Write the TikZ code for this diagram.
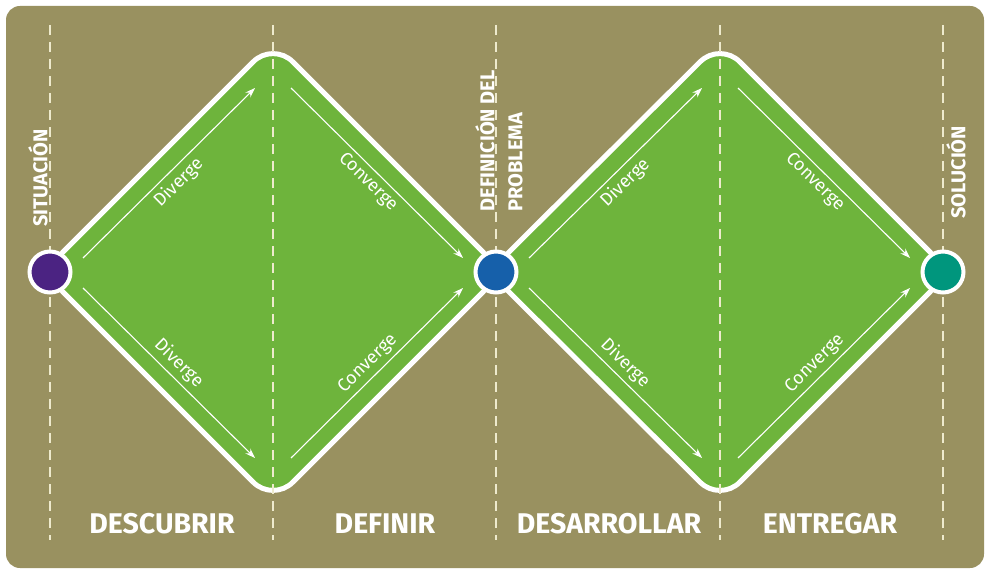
\documentclass[tikz,border=0pt]{standalone}
\usepackage{fontspec}
\setmainfont{Fira Sans}
\usetikzlibrary{arrows.meta}
\definecolor{olive}{RGB}{153,145,96}
\definecolor{leaf}{RGB}{110,180,60}
\definecolor{guidecream}{RGB}{238,234,205}
\definecolor{dotpurple}{RGB}{75,35,130}
\definecolor{dotblue}{RGB}{22,96,170}
\definecolor{dotteal}{RGB}{0,150,125}

\begin{document}
\begin{tikzpicture}[x=1pt,y=-1pt,
  phase/.style={fill=leaf, draw=white, line width=5pt, rounded corners=28pt},
  guide/.style={guidecream, line width=1.3pt, dash pattern=on 10pt off 7pt},
  flow/.style={white, line width=1.1pt, -{Stealth[length=10pt,width=7pt]}},
  flowlabel/.style={font=\fontsize{18}{18}\selectfont, text=white, sloped, midway},
  milestone/.style={circle, draw=white, line width=4pt, minimum size=41pt, inner sep=0pt},
  steplabel/.style={font=\bfseries\fontsize{20}{28}\selectfont, text=white, rotate=90, anchor=west, align=left},
  stagename/.style={font=\bfseries\fontsize{28.5}{28.5}\selectfont, text=white}]
  \useasboundingbox (0,0) rectangle (986,572);
  %% Background panel
  \fill[olive, rounded corners=14pt] (6,6) rectangle (984,568);
  %% The two diamonds
  \draw[phase] (43,272) -- (273,42) -- (503,272) -- (273,502) -- cycle;
  \draw[phase] (489,272) -- (720,42) -- (950,272) -- (720,502) -- cycle;
  %% Dashed guides
  \draw[guide] (50,25) -- (50,540);
  \draw[guide] (273,25) -- (273,540);
  \draw[guide] (496,25) -- (496,540);
  \draw[guide] (720,25) -- (720,540);
  \draw[guide] (943,25) -- (943,540);
  %% Milestones
  \node[milestone, fill=dotpurple] (situacion) at (50,272) {};
  \node[milestone, fill=dotblue] (problema) at (496,272) {};
  \node[milestone, fill=dotteal] (solucion) at (943,272) {};
  %% First diamond: diverge, then converge
  \draw[flow] (83,258) -- (255,88) node[flowlabel, below=1pt] {Diverge};
  \draw[flow] (83,288) -- (255,458) node[flowlabel, above=1pt] {Diverge};
  \draw[flow] (291,88) -- (463,258) node[flowlabel, below=1pt] {Converge};
  \draw[flow] (291,458) -- (463,288) node[flowlabel, above=1pt] {Converge};
  %% Second diamond
  \draw[flow] (529,258) -- (702,88) node[flowlabel, below=1pt] {Diverge};
  \draw[flow] (529,288) -- (702,458) node[flowlabel, above=1pt] {Diverge};
  \draw[flow] (738,88) -- (910,258) node[flowlabel, below=1pt] {Converge};
  \draw[flow] (738,458) -- (910,288) node[flowlabel, above=1pt] {Converge};
  %% Milestone labels
  \node[steplabel] (situacion-lbl) at (38,230) {SITUACIÓN};
  \node[steplabel] (problema-lbl) at (499,215) {DEFINICIÓN DEL\\PROBLEMA};
  \node[steplabel] (solucion-lbl) at (956,222) {SOLUCIÓN};
  %% Stage names
  \node[stagename] (descubrir) at (162,524) {DESCUBRIR};
  \node[stagename] (definir) at (385,524) {DEFINIR};
  \node[stagename] (desarrollar) at (609,524) {DESARROLLAR};
  \node[stagename] (entregar) at (830,524) {ENTREGAR};
\end{tikzpicture}
\end{document}
